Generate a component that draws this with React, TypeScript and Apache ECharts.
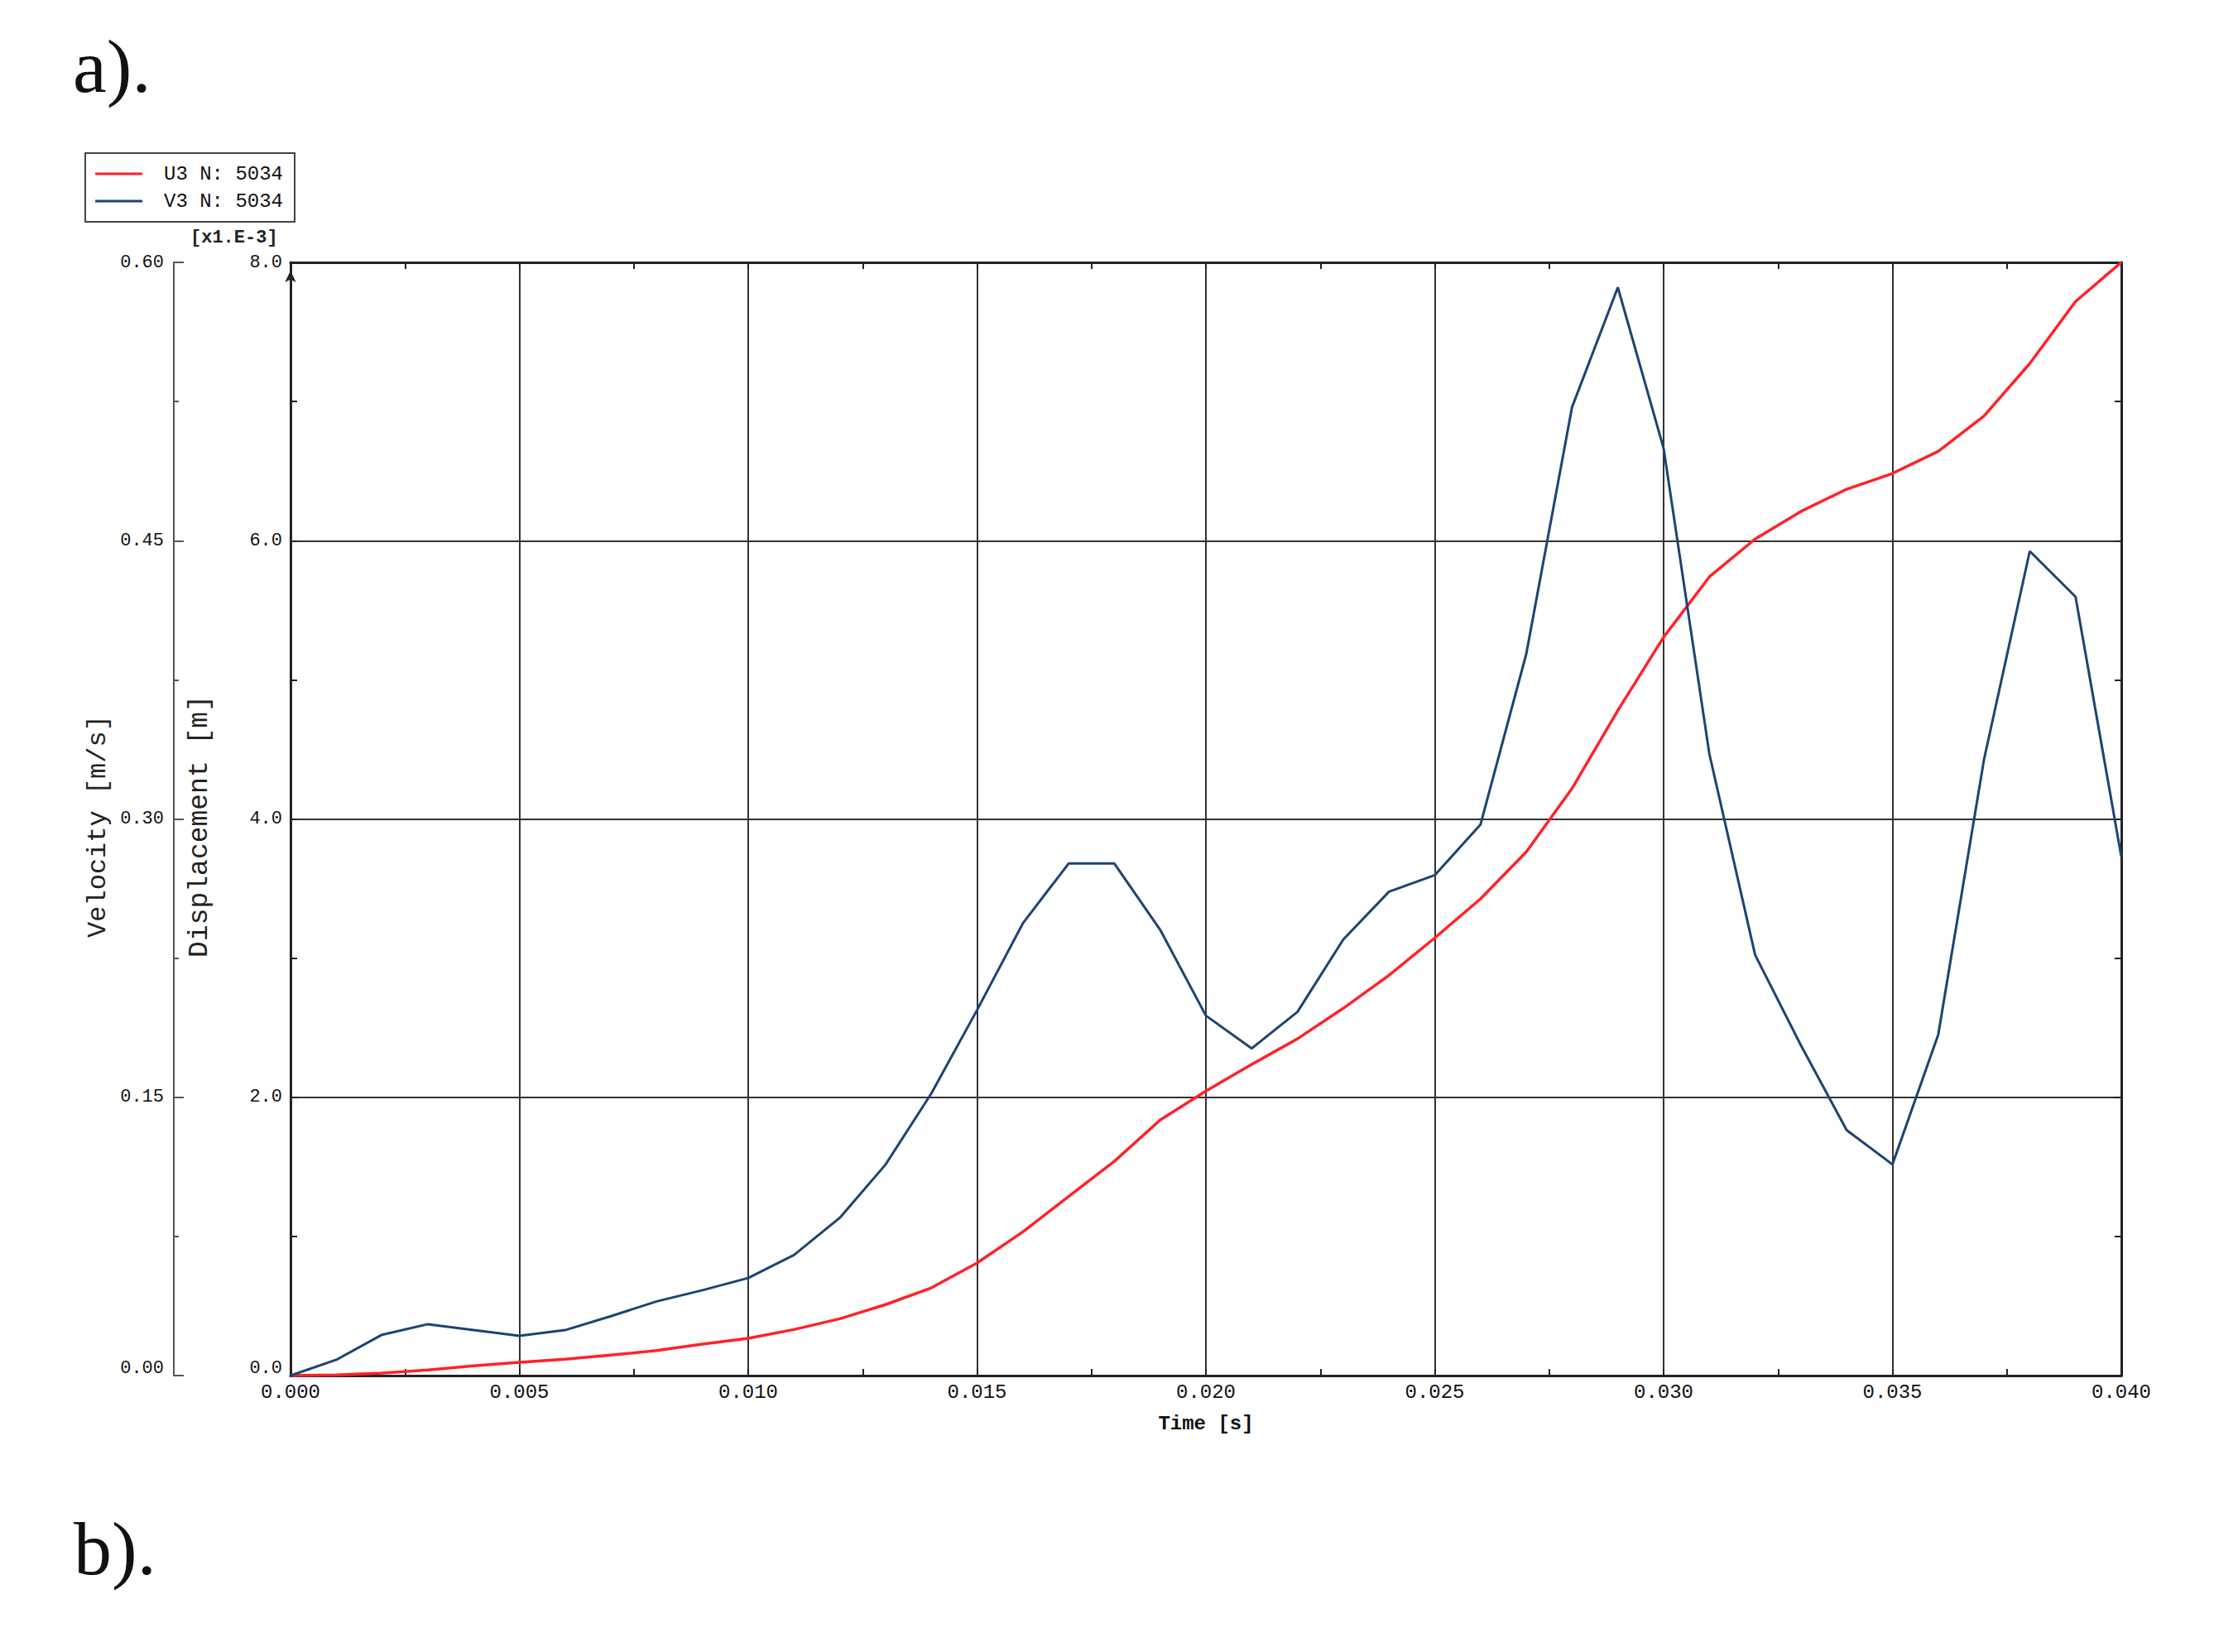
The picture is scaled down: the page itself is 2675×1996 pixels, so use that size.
import React, { useEffect, useRef } from "react";
import * as echarts from "echarts";

// Time [s]
const TIME = [
  0.0, 0.001, 0.002, 0.003, 0.004, 0.005, 0.006, 0.007, 0.008, 0.009,
  0.01, 0.011, 0.012, 0.013, 0.014, 0.015, 0.016, 0.017, 0.018, 0.019,
  0.02, 0.021, 0.022, 0.023, 0.024, 0.025, 0.026, 0.027, 0.028, 0.029,
  0.03, 0.031, 0.032, 0.033, 0.034, 0.035, 0.036, 0.037, 0.038, 0.039,
  0.04,
];

// U3 displacement [m] in units of 1e-3
const U3_DISPLACEMENT = [
  0.0, 0.005, 0.018, 0.04, 0.07, 0.095, 0.117, 0.147, 0.18, 0.226,
  0.268, 0.331, 0.408, 0.51, 0.63, 0.809, 1.033, 1.287, 1.54, 1.836,
  2.044, 2.236, 2.42, 2.639, 2.877, 3.145, 3.426, 3.763, 4.22, 4.78,
  5.306, 5.74, 6.012, 6.21, 6.37, 6.483, 6.642, 6.896, 7.273, 7.719,
  8.0,
];

// V3 velocity [m/s]
const V3_VELOCITY = [
  0.0, 0.0085, 0.022, 0.0277, 0.0245, 0.0214, 0.0245, 0.032, 0.04, 0.046,
  0.0526, 0.065, 0.085, 0.1137, 0.152, 0.197, 0.2437, 0.276, 0.276, 0.2403,
  0.194, 0.1763, 0.196, 0.235, 0.2608, 0.2697, 0.297, 0.389, 0.522, 0.5865,
  0.4998, 0.335, 0.2267, 0.178, 0.1323, 0.1138, 0.1837, 0.332, 0.4443, 0.4198,
  0.2797,
];

const SERIES_NAMES = ["U3 N: 5034", "V3 N: 5034"];
const TIME_RANGE = [0, 0.04, 0.005];
const DISP_RANGE = [0, 8, 2];
const VEL_RANGE = [0, 0.6, 0.15];

const MONO = "Liberation Mono";
const RED = "#ff2228";
const BLUE = "#1b4473";

export default function App() {
  const ref = useRef<HTMLDivElement>(null);

  useEffect(() => {
    if (!ref.current) return;
    const chart = echarts.init(ref.current, null, { renderer: "svg" });
    const u3 = TIME.map((t, i) => [t, U3_DISPLACEMENT[i]]);
    const v3 = TIME.map((t, i) => [t, V3_VELOCITY[i]]);

    const tickLine = { color: "#222", width: 2 };
    const zeroRich = { z: { padding: [0, 0, 18, 0] } };

    chart.setOption({
      animation: false,
      backgroundColor: "#ffffff",
      grid: { left: 351, top: 317, right: 112, bottom: 334, containLabel: false },
      legend: {
        left: 103,
        top: 185,
        orient: "vertical",
        padding: [13, 14, 13, 12],
        itemGap: 9,
        itemWidth: 57,
        itemHeight: 3,
        icon: "rect",
        borderColor: "#444",
        borderWidth: 2,
        backgroundColor: "#fff",
        data: SERIES_NAMES,
        textStyle: {
          fontFamily: MONO,
          fontSize: 24,
          color: "#111",
          padding: [0, 0, 0, 21],
        },
      },
      xAxis: [
        {
          type: "value",
          position: "bottom",
          min: TIME_RANGE[0],
          max: TIME_RANGE[1],
          interval: TIME_RANGE[2],
          axisLine: { show: true, onZero: false, lineStyle: { color: "#222", width: 3 } },
          axisTick: { show: true, inside: true, length: 8, lineStyle: tickLine },
          minorTick: { show: true, splitNumber: 2, length: 8, lineStyle: tickLine },
          axisLabel: {
            formatter: (v: number) => v.toFixed(3),
            fontFamily: MONO,
            fontSize: 24,
            color: "#111",
            margin: 8,
          },
          splitLine: { show: true, lineStyle: { color: "#333", width: 2 } },
          name: "Time [s]",
          nameLocation: "middle",
          nameGap: 46,
          nameTextStyle: { fontFamily: MONO, fontSize: 24, color: "#111", fontWeight: "bold" },
        },
        {
          type: "value",
          position: "top",
          min: TIME_RANGE[0],
          max: TIME_RANGE[1],
          interval: TIME_RANGE[2],
          axisLine: { show: true, onZero: false, lineStyle: { color: "#222", width: 3 } },
          axisTick: { show: true, inside: true, length: 8, lineStyle: tickLine },
          minorTick: { show: true, splitNumber: 2, length: 8, lineStyle: tickLine },
          axisLabel: { show: false },
          splitLine: { show: false },
        },
      ],
      yAxis: [
        {
          type: "value",
          position: "left",
          min: DISP_RANGE[0],
          max: DISP_RANGE[1],
          interval: DISP_RANGE[2],
          axisLine: {
            show: true,
            onZero: false,
            symbol: ["none", "arrow"],
            symbolSize: [10, 14],
            symbolOffset: [0, -10],
            lineStyle: { color: "#222", width: 3 },
          },
          axisTick: { show: true, inside: true, length: 8, lineStyle: tickLine },
          minorTick: { show: true, splitNumber: 2, length: 8, lineStyle: tickLine },
          axisLabel: {
            formatter: (v: number) => (v === 0 ? "{z|" + v.toFixed(1) + "}" : v.toFixed(1)),
            rich: zeroRich,
            fontFamily: MONO,
            fontSize: 22,
            color: "#111",
            margin: 10,
          },
          splitLine: { show: true, lineStyle: { color: "#333", width: 2 } },
          name: "Displacement [m]",
          nameLocation: "middle",
          nameGap: 93,
          nameRotate: 90,
          nameTextStyle: { fontFamily: MONO, fontSize: 33, color: "#222", padding: [0, 18, 0, 0] },
        },
        {
          type: "value",
          position: "left",
          offset: 141,
          min: VEL_RANGE[0],
          max: VEL_RANGE[1],
          interval: VEL_RANGE[2],
          axisLine: { show: true, onZero: false, lineStyle: { color: "#555", width: 2 } },
          axisTick: { show: true, inside: true, length: 12, lineStyle: { color: "#555", width: 2 } },
          minorTick: { show: true, splitNumber: 2, length: 6, lineStyle: { color: "#555", width: 2 } },
          axisLabel: {
            formatter: (v: number) => (v === 0 ? "{z|" + v.toFixed(2) + "}" : v.toFixed(2)),
            rich: zeroRich,
            fontFamily: MONO,
            fontSize: 22,
            color: "#111",
            margin: 12,
          },
          splitLine: { show: false },
          name: "Velocity [m/s]",
          nameLocation: "middle",
          nameGap: 71,
          nameRotate: 90,
          nameTextStyle: { fontFamily: MONO, fontSize: 32, color: "#222", padding: [0, 18, 0, 0] },
        },
        {
          type: "value",
          position: "right",
          min: DISP_RANGE[0],
          max: DISP_RANGE[1],
          interval: DISP_RANGE[2],
          axisLine: { show: true, onZero: false, lineStyle: { color: "#222", width: 3 } },
          axisTick: { show: true, inside: true, length: 8, lineStyle: tickLine },
          minorTick: { show: true, splitNumber: 2, length: 8, lineStyle: tickLine },
          axisLabel: { show: false },
          splitLine: { show: false },
        },
      ],
      series: [
        {
          name: SERIES_NAMES[0],
          type: "line",
          xAxisIndex: 0,
          yAxisIndex: 0,
          data: u3,
          symbol: "none",
          lineStyle: { color: RED, width: 3.5 },
          itemStyle: { color: RED },
          z: 3,
        },
        {
          name: SERIES_NAMES[1],
          type: "line",
          xAxisIndex: 0,
          yAxisIndex: 1,
          data: v3,
          symbol: "none",
          lineStyle: { color: BLUE, width: 3 },
          itemStyle: { color: BLUE },
          z: 4,
        },
      ],
      graphic: [
        {
          type: "text",
          left: 230,
          top: 276,
          style: {
            text: "[x1.E-3]",
            font: `bold 22px "${MONO}"`,
            fill: "#222",
          },
        },
        {
          type: "text",
          x: 88,
          y: 80,
          style: {
            text: "a).",
            font: `92px "Liberation Serif"`,
            fill: "#111",
            verticalAlign: "middle",
          },
        },
        {
          type: "text",
          x: 89,
          y: 1871,
          style: {
            text: "b).",
            font: `92px "Liberation Serif"`,
            fill: "#111",
            verticalAlign: "middle",
          },
        },
      ],
    });

    return () => chart.dispose();
  }, []);

  return (
    <div
      ref={ref}
      style={{ position: "fixed", left: 0, top: 0, width: 2675, height: 1996, background: "#fff" }}
    />
  );
}
